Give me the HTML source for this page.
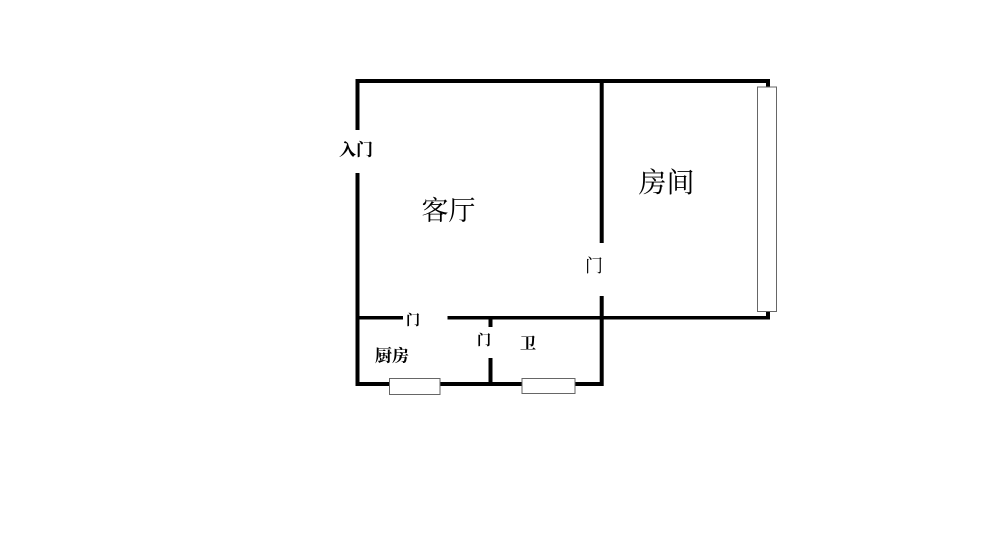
<!DOCTYPE html>
<html><head><meta charset="utf-8"><style>
html,body{margin:0;padding:0;background:#fff;width:1000px;height:535px;overflow:hidden}
svg{display:block;filter:blur(0.35px)}
text{font-family:"Liberation Serif","Noto Serif CJK SC",serif;fill:#000;text-anchor:middle}
</style></head><body>
<svg width="1000" height="535" viewBox="0 0 1000 535" xmlns="http://www.w3.org/2000/svg">
<rect width="1000" height="535" fill="#fff"/>
<g fill="#000">
<rect x="355.5" y="79" width="414.5" height="4"/>
<rect x="355.5" y="79" width="4" height="51"/>
<rect x="355.5" y="173" width="4" height="213"/>
<rect x="599.7" y="79" width="4" height="164"/>
<rect x="599.7" y="296" width="4" height="90"/>
<rect x="355.5" y="316" width="47.5" height="3.5"/>
<rect x="447.5" y="316" width="322.5" height="3.5"/>
<rect x="766" y="79" width="4" height="8"/>
<rect x="766" y="311" width="4" height="8"/>
<rect x="488.5" y="318" width="4" height="9"/>
<rect x="488.5" y="358" width="4" height="26"/>
<rect x="355.5" y="382" width="248" height="4"/>
</g>
<g fill="#fff" stroke="#666" stroke-width="1">
<rect x="757.5" y="87" width="19" height="224.5"/>
<rect x="389.5" y="378.5" width="50.5" height="16"/>
<rect x="522" y="378.5" width="53" height="15"/>
</g>
<text x="448.5" y="220" font-size="27">客厅</text>
<text x="666.5" y="192" font-size="28">房间</text>
<text x="356" y="155.5" font-size="17" font-weight="700">入门</text>
<text x="594" y="272" font-size="18">门</text>
<text x="413" y="325" font-size="14" font-weight="700">门</text>
<text x="484" y="345" font-size="14" font-weight="700">门</text>
<text x="528" y="349" font-size="16" font-weight="700">卫</text>
<text x="392" y="361.5" font-size="17" font-weight="700">厨房</text>
</svg>
</body></html>
